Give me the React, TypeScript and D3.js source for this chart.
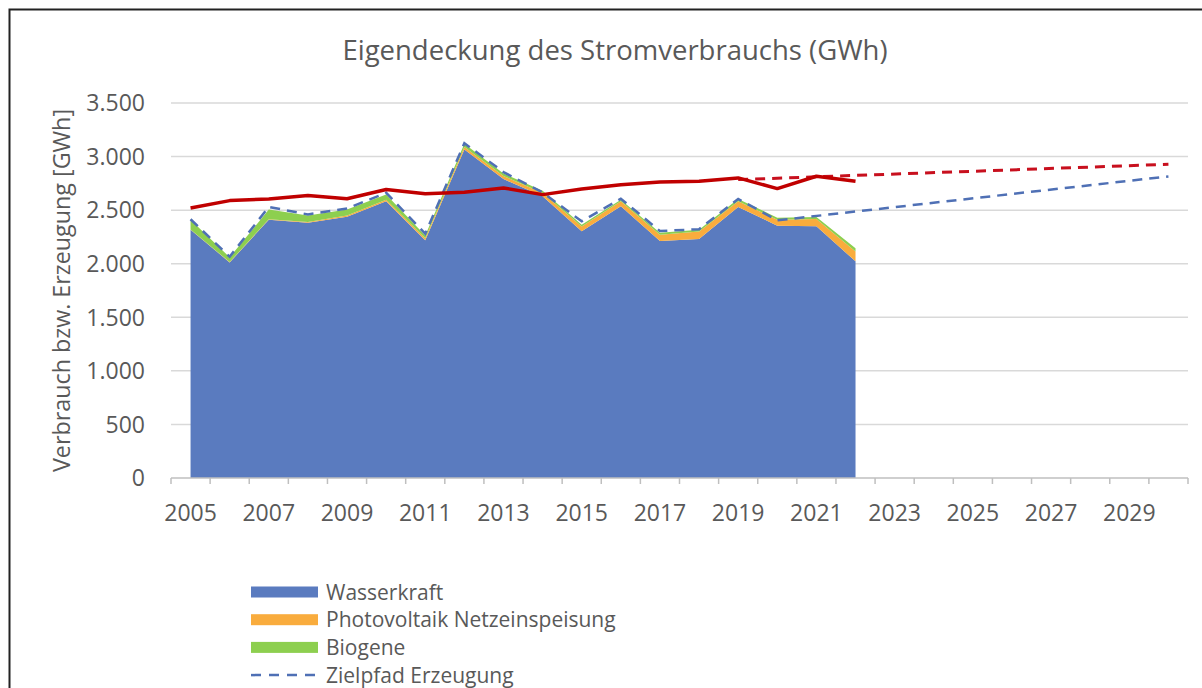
import React from "react";
import * as d3 from "d3";

const years = [
  "2005", "2006", "2007", "2008", "2009", "2010", "2011", "2012", "2013",
  "2014", "2015", "2016", "2017", "2018", "2019", "2020", "2021", "2022",
  "2023", "2024", "2025", "2026", "2027", "2028", "2029", "2030",
];
const labelYears = ["2005", "2007", "2009", "2011", "2013", "2015", "2017", "2019", "2021", "2023", "2025", "2027", "2029"];
const yTicks = [0, 500, 1000, 1500, 2000, 2500, 3000, 3500];

// Ist-Werte 2005-2022 (GWh)
const histYears = years.slice(0, 18);
const wasserkraft = [2318, 2012, 2411, 2383, 2439, 2582, 2218, 3065, 2790, 2629, 2302, 2536, 2212, 2231, 2530, 2355, 2349, 2022];
const photovoltaik = [2, 3, 4, 6, 10, 15, 20, 25, 28, 32, 45, 46, 58, 70, 52, 56, 68, 92];
const biogene = [90, 45, 90, 62, 58, 48, 25, 30, 25, 20, 17, 16, 20, 17, 22, 19, 19, 31];
const verbrauch = [2520, 2589, 2604, 2636, 2607, 2692, 2654, 2667, 2707, 2645, 2698, 2738, 2763, 2770, 2801, 2701, 2816, 2770];

// Zielpfade
const zielErzYears = ["2005", "2006", "2007", "2008", "2009", "2010", "2011", "2012", "2013", "2014", "2015", "2016", "2017", "2018", "2019", "2020", "2030"];
const zielErz = [2415, 2065, 2530, 2460, 2515, 2662, 2280, 3125, 2855, 2665, 2396, 2607, 2305, 2322, 2604, 2405, 2815];
const zielVerbYears = ["2019", "2030"];
const zielVerb = [2785, 2928];

const seriesNames = ["Wasserkraft", "Photovoltaik Netzeinspeisung", "Biogene"];
const colors = ["#5A7BBF", "#F9AC3D", "#8DCF4F"];

const font = "'Open Sans', sans-serif";
const textColor = "#595959";

export default function App() {
  const width = 1202;
  const height = 688;

  const x = d3.scaleBand().domain(years).range([171, 1188]).padding(0);
  const cx = (yr: string) => (x(yr) as number) + x.bandwidth() / 2;
  const y = d3.scaleLinear().domain([0, 3500]).range([478, 103]);

  const rows = histYears.map((yr, i) => ({
    year: yr,
    w: wasserkraft[i],
    p: photovoltaik[i],
    b: biogene[i],
  }));
  const stacked = d3.stack<any>().keys(["w", "p", "b"])(rows);

  const area = d3
    .area<any>()
    .x((d) => cx(d.data.year))
    .y0((d) => y(d[0]))
    .y1((d) => y(d[1]));

  const line = d3
    .line<[string, number]>()
    .x((d) => cx(d[0]))
    .y((d) => y(d[1]));

  const verbLine = line(histYears.map((yr, i) => [yr, verbrauch[i]] as [string, number]));
  const zielErzLine = line(zielErzYears.map((yr, i) => [yr, zielErz[i]] as [string, number]));
  const zielVerbLine = line(zielVerbYears.map((yr, i) => [yr, zielVerb[i]] as [string, number]));

  const boundaries = years.map((yr) => x(yr) as number).concat([x.range()[1]]);

  return (
    <svg
      width={width}
      height={height}
      style={{ position: "absolute", left: 0, top: 0, background: "#fff" }}
      fontFamily={font}
    >
      <rect x={0} y={0} width={width} height={height} fill="#fff" />
      <rect x={9.5} y={9.5} width={1300} height={800} fill="none" stroke="#222" strokeWidth={2} />

      <text x={615} y={60} textAnchor="middle" fontSize={27.5} fill={textColor}>
        Eigendeckung des Stromverbrauchs (GWh)
      </text>

      {/* Gitternetz */}
      {yTicks.map((t) =>
        t === 0 ? null : (
          <line key={t} x1={171} x2={1188} y1={y(t)} y2={y(t)} stroke="#D9D9D9" strokeWidth={1.5} />
        )
      )}

      {/* gestapelte Flächen */}
      {stacked.map((s, i) => (
        <path key={seriesNames[i]} d={area(s) as string} fill={colors[i]} />
      ))}

      {/* Zielpfad Erzeugung */}
      <path d={zielErzLine as string} fill="none" stroke="#4F70B5" strokeWidth={2.5} strokeDasharray="10,7" />
      {/* Verbrauch + Zielpfad */}
      <path d={zielVerbLine as string} fill="none" stroke="#C8101E" strokeWidth={3} strokeDasharray="10,7" />
      <path d={verbLine as string} fill="none" stroke="#C00000" strokeWidth={3.5} strokeLinejoin="round" />

      {/* x-Achse */}
      <line x1={171} x2={1188} y1={y(0)} y2={y(0)} stroke="#BFBFBF" strokeWidth={1.5} />
      {boundaries.map((b, i) => (
        <line key={i} x1={b} x2={b} y1={y(0)} y2={y(0) + 6} stroke="#BFBFBF" strokeWidth={1.5} />
      ))}
      {labelYears.map((yr) => (
        <text key={yr} x={cx(yr)} y={521} textAnchor="middle" fontSize={23} fill={textColor}>
          {yr}
        </text>
      ))}

      {/* y-Achse */}
      {yTicks.map((t) => (
        <text key={t} x={145} y={y(t)} dy="0.36em" textAnchor="end" fontSize={23} fill={textColor}>
          {d3.format(",")(t).replace(",", ".")}
        </text>
      ))}
      <text
        transform={`translate(62,${(y(0) + y(3500)) / 2}) rotate(-90)`}
        textAnchor="middle"
        dy="0.36em"
        fontSize={23.3}
        fill={textColor}
      >
        Verbrauch bzw. Erzeugung [GWh]
      </text>

      {/* Legende */}
      {seriesNames.map((n, i) => (
        <g key={n} transform={`translate(251,${592 + i * 27.7})`}>
          <rect x={0} y={-5.5} width={67} height={11} fill={colors[i]} />
          <text x={75} y={0} dy="0.36em" fontSize={21} fill={textColor}>
            {n}
          </text>
        </g>
      ))}
      <g transform={`translate(251,${592 + 3 * 27.7})`}>
        <line x1={0} x2={67} y1={0} y2={0} stroke="#4F70B5" strokeWidth={2.5} strokeDasharray="10,8" />
        <text x={75} y={0} dy="0.36em" fontSize={21} fill={textColor}>
          Zielpfad Erzeugung
        </text>
      </g>
    </svg>
  );
}
